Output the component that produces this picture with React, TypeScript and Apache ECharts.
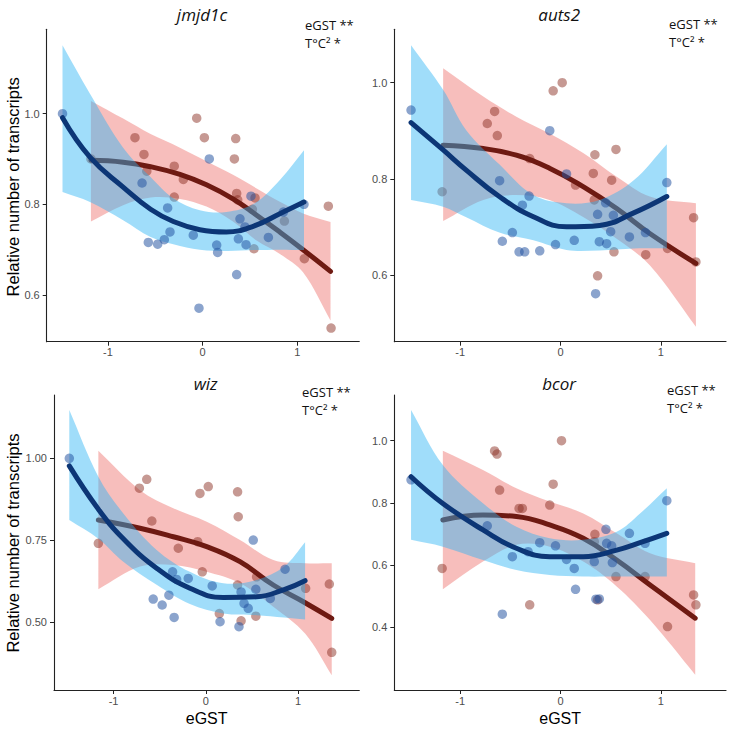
import React, { useEffect, useRef } from 'react';
import * as echarts from 'echarts';

// ---------- data ----------
const geneNames = ['jmjd1c', 'auts2', 'wiz', 'bcor'];
const xTickValues = [-1, 0, 1];

// points [eGST, relative number of transcripts]
const jmjd1cBlue = [[-1.48,1.0],[0.07,0.90],[-0.64,0.847],[-0.37,0.792],[-0.345,0.739],[-0.405,0.722],[-0.574,0.716],[-0.475,0.712],[-0.099,0.732],[0.148,0.71],[0.158,0.694],[0.377,0.724],[0.458,0.711],[0.394,0.768],[0.447,0.75],[0.694,0.727],[0.852,0.783],[0.51,0.818],[1.07,0.80],[0.359,0.645],[-0.039,0.571]];
const jmjd1cRed = [[-0.063,0.99],[0.018,0.947],[0.349,0.945],[0.335,0.90],[-0.715,0.947],[-0.62,0.91],[-0.59,0.873],[-0.30,0.884],[-0.204,0.855],[-0.30,0.816],[0.359,0.824],[0.37,0.81],[0.553,0.814],[0.525,0.789],[0.863,0.763],[0.542,0.702],[1.074,0.68],[1.327,0.796],[1.356,0.527],[-1.18,0.90]];
const auts2Blue = [[-1.49,0.943],[-0.107,0.90],[-0.607,0.796],[-0.313,0.764],[-0.38,0.745],[-0.58,0.67],[-0.48,0.688],[-0.413,0.648],[-0.357,0.648],[-0.207,0.65],[-0.05,0.663],[0.137,0.672],[0.387,0.669],[0.46,0.665],[0.5,0.69],[0.45,0.75],[0.37,0.726],[0.527,0.724],[0.687,0.679],[0.847,0.688],[1.06,0.792],[0.35,0.561],[0.06,0.81]];
const auts2Red = [[-0.073,0.983],[0.017,1.0],[-0.657,0.94],[-0.73,0.915],[-0.63,0.89],[-1.18,0.773],[-0.307,0.842],[0.343,0.85],[0.553,0.861],[0.327,0.811],[0.337,0.756],[0.533,0.648],[0.85,0.642],[1.067,0.655],[1.327,0.719],[1.35,0.627],[0.37,0.598],[0.15,0.787],[0.51,0.797]];
const wizBlue = [[-1.48,1.0],[0.515,0.751],[0.86,0.662],[-0.36,0.654],[-0.316,0.631],[-0.19,0.634],[0.07,0.611],[-0.57,0.571],[-0.40,0.583],[-0.473,0.553],[-0.343,0.515],[0.155,0.502],[0.36,0.487],[0.383,0.593],[0.415,0.558],[0.46,0.543],[0.543,0.601],[0.70,0.573]];
const wizRed = [[-1.165,0.741],[-0.72,0.909],[-0.64,0.936],[-0.585,0.809],[-0.298,0.726],[-0.088,0.746],[-0.063,0.893],[0.027,0.914],[0.345,0.898],[0.352,0.822],[0.345,0.614],[0.147,0.527],[0.383,0.505],[0.543,0.519],[0.551,0.639],[1.083,0.604],[1.34,0.617],[1.366,0.409],[-0.038,0.654]];
const bcorBlue = [[-1.49,0.874],[1.06,0.807],[0.687,0.702],[0.453,0.715],[-0.207,0.672],[-0.05,0.662],[-0.323,0.643],[-0.48,0.627],[0.06,0.618],[0.137,0.589],[0.15,0.522],[0.353,0.49],[0.387,0.491],[-0.58,0.442],[-0.73,0.726],[0.46,0.67],[0.51,0.662],[0.517,0.608],[0.843,0.67],[0.337,0.611]];
const bcorRed = [[0.01,1.0],[-0.657,0.967],[-0.633,0.957],[-0.073,0.86],[-0.607,0.841],[-0.107,0.793],[-0.413,0.782],[-0.38,0.782],[-1.18,0.589],[-0.307,0.472],[0.37,0.488],[0.343,0.699],[0.553,0.563],[0.843,0.563],[1.067,0.402],[1.327,0.504],[1.35,0.472],[0.337,0.675]];

// fitted curves [eGST, lower CI, fit, upper CI]
const jmjd1cBlueFit = [[-1.48,0.827,0.991,1.151],[-1.19,0.805,0.904,1.044],[-0.84,0.765,0.838,0.925],[-0.55,0.728,0.789,0.86],[-0.31,0.712,0.762,0.813],[-0.03,0.70,0.744,0.787],[0.25,0.697,0.739,0.783],[0.54,0.699,0.752,0.801],[0.82,0.70,0.78,0.855],[1.07,0.699,0.805,0.919]];
const jmjd1cRedFit = [[-1.18,0.762,0.897,1.028],[-0.84,0.798,0.893,0.989],[-0.55,0.815,0.883,0.955],[-0.24,0.812,0.866,0.925],[0.04,0.795,0.843,0.895],[0.32,0.762,0.812,0.865],[0.57,0.72,0.776,0.835],[0.82,0.69,0.738,0.805],[1.06,0.65,0.70,0.78],[1.35,0.544,0.652,0.761]];
const auts2BlueFit = [[-1.49,0.756,0.917,1.078],[-1.17,0.742,0.86,0.985],[-0.94,0.72,0.818,0.901],[-0.61,0.688,0.763,0.83],[-0.27,0.672,0.721,0.766],[0.06,0.652,0.70,0.749],[0.39,0.651,0.703,0.756],[0.73,0.655,0.729,0.797],[1.06,0.655,0.763,0.872]];
const auts2RedFit = [[-1.17,0.712,0.87,1.03],[-0.77,0.756,0.863,0.971],[-0.44,0.766,0.849,0.929],[-0.11,0.756,0.822,0.894],[0.23,0.72,0.783,0.853],[0.56,0.675,0.738,0.804],[0.89,0.62,0.686,0.763],[1.35,0.492,0.624,0.749]];
const wizBlueFit = [[-1.48,0.812,0.977,1.147],[-1.165,0.755,0.845,0.944],[-0.894,0.685,0.755,0.832],[-0.533,0.615,0.665,0.721],[-0.172,0.556,0.604,0.654],[0.19,0.527,0.576,0.619],[0.551,0.522,0.578,0.629],[0.85,0.515,0.60,0.67],[1.077,0.509,0.627,0.744]];
const wizRedFit = [[-1.165,0.601,0.812,1.023],[-0.713,0.67,0.787,0.903],[-0.352,0.675,0.761,0.848],[0.01,0.654,0.731,0.807],[0.371,0.619,0.685,0.751],[0.732,0.548,0.614,0.69],[1.077,0.466,0.56,0.68],[1.366,0.339,0.512,0.68]];
const bcorBlueFit = [[-1.49,0.681,0.884,1.099],[-1.173,0.659,0.798,0.922],[-0.773,0.616,0.713,0.799],[-0.44,0.584,0.654,0.723],[-0.107,0.568,0.627,0.686],[0.227,0.563,0.627,0.681],[0.56,0.563,0.648,0.707],[0.793,0.563,0.672,0.766],[1.06,0.563,0.702,0.847]];
const bcorRedFit = [[-1.173,0.522,0.745,0.968],[-0.773,0.611,0.761,0.906],[-0.44,0.665,0.756,0.847],[-0.107,0.659,0.729,0.804],[0.227,0.611,0.686,0.766],[0.56,0.531,0.616,0.702],[0.893,0.423,0.536,0.638],[1.343,0.247,0.429,0.606]];

// y tick labels per panel
const jmjd1cYTicks = [0.6, 0.8, 1.0];
const auts2YTicks = [0.6, 0.8, 1.0];
const wizYTicks = [0.5, 0.75, 1.0];
const bcorYTicks = [0.4, 0.6, 0.8, 1.0];

// ---------- layout ----------
const panels = [
  { name: geneNames[0], blue: jmjd1cBlue, red: jmjd1cRed, blueFit: jmjd1cBlueFit, redFit: jmjd1cRedFit, yTicks: jmjd1cYTicks, dec: 1,
    grid: { left: 46.7, top: 29.3, width: 312.6, height: 312.4 }, x: [-1.647, 1.654], y: [0.497, 1.186], note: [305, 25, 43], titleY: 14, yTitle: true, xTitle: false },
  { name: geneNames[1], blue: auts2Blue, red: auts2Red, blueFit: auts2BlueFit, redFit: auts2RedFit, yTicks: auts2YTicks, dec: 1,
    grid: { left: 394.3, top: 29.3, width: 331.7, height: 312.4 }, x: [-1.657, 1.65], y: [0.461, 1.111], note: [669, 24, 42], titleY: 14, yTitle: false, xTitle: false },
  { name: geneNames[2], blue: wizBlue, red: wizRed, blueFit: wizBlueFit, redFit: wizRedFit, yTicks: wizYTicks, dec: 2,
    grid: { left: 54, top: 395, width: 305.3, height: 295 }, x: [-1.646, 1.665], y: [0.294, 1.193], note: [302, 392, 410], titleY: 383, yTitle: true, xTitle: true },
  { name: geneNames[3], blue: bcorBlue, red: bcorRed, blueFit: bcorBlueFit, redFit: bcorRedFit, yTicks: bcorYTicks, dec: 1,
    grid: { left: 394.3, top: 395, width: 331.7, height: 295 }, x: [-1.657, 1.65], y: [0.198, 1.147], note: [667, 390, 408], titleY: 383, yTitle: false, xTitle: true },
];

const AXIS_COLOR = '#222222';
const LABEL_COLOR = '#4d4d4d';
const RED_BAND = 'rgba(240,125,122,0.5)';
const BLUE_BAND = 'rgba(45,180,245,0.45)';
const RED_POINT = 'rgba(140,48,36,0.62)';
const BLUE_POINT = 'rgba(36,84,160,0.66)';
const RED_LINE = '#6e1a12';
const BLUE_LINE = '#0c3676';

function bandSeries(idx: number, fit: number[][], fill: string, z: number) {
  return {
    type: 'custom',
    xAxisIndex: idx,
    yAxisIndex: idx,
    z,
    silent: true,
    data: [[fit[0][0], fit[0][2]]],
    renderItem: (_params: any, api: any) => {
      const up = fit.map((r) => api.coord([r[0], r[3]]));
      const lo = fit.map((r) => api.coord([r[0], r[1]])).reverse();
      const pts = [up[0], ...up, up[up.length - 1], lo[0], ...lo, lo[lo.length - 1]];
      return {
        type: 'polygon',
        shape: { points: pts, smooth: 0.35 },
        style: { fill, stroke: 'none' },
      };
    },
  };
}

function fitSeries(idx: number, fit: number[][], color: string, z: number) {
  return {
    type: 'line',
    xAxisIndex: idx,
    yAxisIndex: idx,
    z,
    silent: true,
    data: fit.map((r) => [r[0], r[2]]),
    smooth: 0.45,
    symbol: 'none',
    lineStyle: { color, width: 5, cap: 'round', join: 'round' },
  };
}

function pointSeries(idx: number, pts: number[][], color: string, z: number) {
  return {
    type: 'scatter',
    xAxisIndex: idx,
    yAxisIndex: idx,
    z,
    silent: true,
    data: pts,
    symbolSize: 9.5,
    itemStyle: { color },
  };
}

export default function App() {
  const ref = useRef<HTMLDivElement>(null);
  useEffect(() => {
    if (!ref.current) return;
    const chart = echarts.init(ref.current, undefined, { renderer: 'svg' });
    const grids: any[] = [];
    const xAxes: any[] = [];
    const yAxes: any[] = [];
    const series: any[] = [];
    const graphics: any[] = [];
    panels.forEach((p, i) => {
      grids.push({ ...p.grid, containLabel: false });
      xAxes.push({
        type: 'value', gridIndex: i, min: p.x[0], max: p.x[1],
        axisLine: { onZero: false, lineStyle: { color: AXIS_COLOR, width: 1.1 } },
        axisTick: { show: true, length: 4, customValues: xTickValues, lineStyle: { color: AXIS_COLOR } },
        axisLabel: { customValues: xTickValues, margin: 5, fontSize: 11, color: LABEL_COLOR, fontFamily: 'Liberation Sans, Arial, sans-serif', formatter: (v: number) => String(v) },
        splitLine: { show: false },
      });
      yAxes.push({
        type: 'value', gridIndex: i, min: p.y[0], max: p.y[1],
        axisLine: { show: true, onZero: false, lineStyle: { color: AXIS_COLOR, width: 1.1 } },
        axisTick: { show: true, length: 4, customValues: p.yTicks, lineStyle: { color: AXIS_COLOR } },
        axisLabel: { customValues: p.yTicks, margin: 7, fontSize: 11, color: LABEL_COLOR, fontFamily: 'Liberation Sans, Arial, sans-serif', formatter: (v: number) => v.toFixed(p.dec) },
        splitLine: { show: false },
      });
      series.push(bandSeries(i, p.redFit, RED_BAND, 1));
      series.push(pointSeries(i, p.red, RED_POINT, 2));
      series.push(fitSeries(i, p.redFit, RED_LINE, 3));
      series.push(bandSeries(i, p.blueFit, BLUE_BAND, 4));
      series.push(pointSeries(i, p.blue, BLUE_POINT, 5));
      series.push(fitSeries(i, p.blueFit, BLUE_LINE, 6));

      const cx = p.grid.left + p.grid.width / 2;
      graphics.push({
        type: 'text', x: cx - 1, y: p.titleY,
        style: { text: p.name, font: 'italic 17px "Open Sans", sans-serif', fill: '#111', textAlign: 'center', textVerticalAlign: 'middle' },
      });
      graphics.push({
        type: 'text', x: p.note[0], y: p.note[1],
        style: { text: 'eGST **', font: '13px "Open Sans", sans-serif', fill: '#111', textAlign: 'left', textVerticalAlign: 'middle' },
      });
      graphics.push({
        type: 'text', x: p.note[0], y: p.note[2],
        style: { text: 'T°C² *', font: '13px "Open Sans", sans-serif', fill: '#111', textAlign: 'left', textVerticalAlign: 'middle' },
      });
      if (p.yTitle) {
        graphics.push({
          type: 'text', x: 12.5, y: p.grid.top + (i < 2 ? 157.5 : 148), rotation: Math.PI / 2,
          style: { text: 'Relative number of transcripts', font: '16.5px "Liberation Sans", Arial, sans-serif', fill: '#000', textAlign: 'center', textVerticalAlign: 'middle' },
        });
      }
      if (p.xTitle) {
        graphics.push({
          type: 'text', x: cx, y: 718,
          style: { text: 'eGST', font: '16px "Liberation Sans", Arial, sans-serif', fill: '#000', textAlign: 'center', textVerticalAlign: 'middle' },
        });
      }
    });
    chart.setOption({
      animation: false,
      backgroundColor: '#ffffff',
      grid: grids,
      xAxis: xAxes,
      yAxis: yAxes,
      series,
      graphic: graphics,
    });
    return () => chart.dispose();
  }, []);
  return <div ref={ref} style={{ position: 'absolute', left: 0, top: 0, width: 730, height: 729 }} />;
}
